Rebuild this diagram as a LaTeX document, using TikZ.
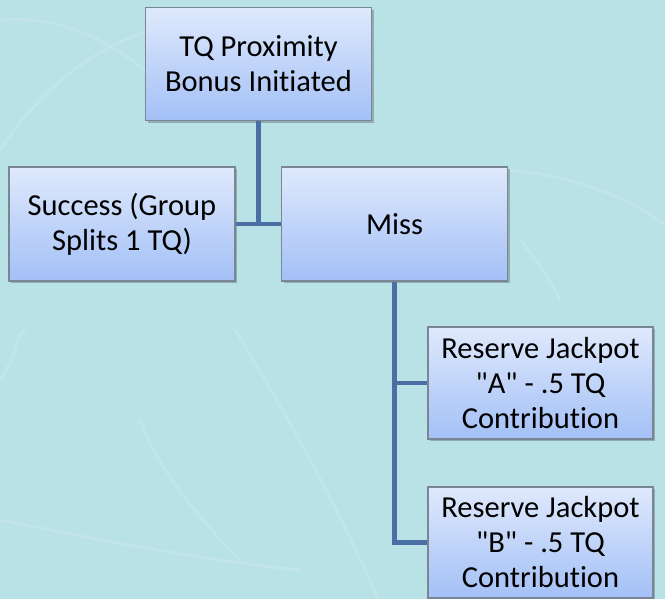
\documentclass[tikz,border=0pt]{standalone}
\usepackage{fontspec}
% box text: Carlito with plain quotes and no ligatures
\newfontfamily\boxfont{Carlito}[RawFeature={-liga;-clig;-calt}]
\usetikzlibrary{shadows}

\definecolor{bgteal}{HTML}{B9E2E6}
\definecolor{boxtop}{HTML}{DFE9FC}
\definecolor{boxbottom}{HTML}{A3C0F6}
\definecolor{boxedge}{HTML}{7A8696}
\definecolor{linkblue}{HTML}{4A6FA5}

\tikzset{
  chartbox/.style={
    rectangle, draw=boxedge, line width=1.1pt,
    top color=boxtop, bottom color=boxbottom,
    minimum width=#1, align=center, inner sep=0pt,
    font=\boxfont\fontsize{30.5}{35}\selectfont,
    drop shadow={shadow xshift=2.2pt, shadow yshift=-2.2pt, opacity=0.35, fill=black!70}
  },
  chartbox/.default=226pt,
  link/.style={draw=linkblue, line width=4.6pt},
  streak/.style={draw=white, line width=3pt, opacity=0.12, line cap=round}
}

\begin{document}
\begin{tikzpicture}[x=1pt, y=-1pt]
  % page and background
  \fill[bgteal] (0,0) rectangle (665,599);
  \useasboundingbox (0,0) rectangle (665,599);

  % faint light streaks in the background
  \draw[streak] (0,150) .. controls (40,90) and (90,50) .. (150,30);
  \draw[streak] (0,20) .. controls (60,15) and (110,40) .. (150,75);
  \draw[streak] (235,330) .. controls (290,420) and (340,510) .. (378,599);
  \draw[streak] (0,380) .. controls (20,350) and (15,335) .. (25,330);
  \draw[streak] (470,170) .. controls (540,165) and (620,190) .. (665,225);
  \draw[streak] (520,240) .. controls (545,270) and (555,290) .. (560,300);
  \draw[streak] (140,420) .. controls (150,450) and (180,500) .. (240,560);
  \draw[streak] (0,520) .. controls (100,540) and (200,560) .. (300,570);

  % boxes
  \node[chartbox, minimum height=113pt] (root) at (258.5,64)
    {TQ Proximity\\Bonus Initiated};
  \node[chartbox, minimum height=114pt] (success) at (122,224)
    {Success (Group\\Splits 1 TQ)};
  \node[chartbox, minimum height=114pt] (miss) at (394.5,224) {Miss};
  \node[chartbox=225pt, minimum height=112pt] (resA) at (540.5,383)
    {Reserve Jackpot\\"A" - .5 TQ\\Contribution};
  \node[chartbox=225pt, minimum height=111pt] (resB) at (540.5,542.5)
    {Reserve Jackpot\\"B" - .5 TQ\\Contribution};

  % connectors
  \coordinate (rootjoin) at (root.south |- success.east);
  \draw[link] (root.south) -- (rootjoin);
  \draw[link] (success.east) -- (miss.west);
  \draw[link] (miss.south) -- (miss.south |- resB.west) -- (resB.west);
  \draw[link] (miss.south |- resA.west) -- (resA.west);
\end{tikzpicture}
\end{document}
